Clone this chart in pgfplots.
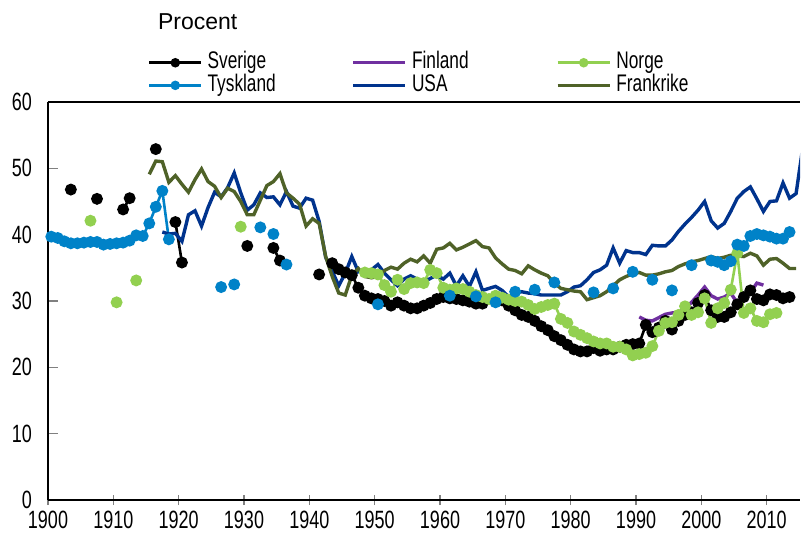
\documentclass[border=0pt]{standalone}
\usepackage{fontspec}
\setmainfont[FakeStretch=0.72]{Liberation Sans}
\newfontfamily\widefont{Liberation Sans}
\usepackage{pgfplots}
\usepackage{pgfplotstable}
\pgfplotsset{compat=1.18}

\definecolor{sve}{RGB}{0,0,0}
\definecolor{fin}{RGB}{112,48,160}
\definecolor{nor}{RGB}{146,208,80}
\definecolor{tys}{RGB}{0,130,200}
\definecolor{usa}{RGB}{0,51,141}
\definecolor{fra}{RGB}{79,98,40}

\pgfplotstableread{
x y
1903 46.8
1904 nan
1907 45.4
1908 nan
1911 43.8
1912 45.5
1913 nan
1916 52.9
1917 nan
1919 41.9
1920 35.8
1921 nan
1930 38.3
1931 nan
1934 38.0
1935 36.1
1936 nan
1941 34.0
1942 nan
1943 35.7
1944 34.8
1945 34.3
1946 33.9
1947 32.0
1948 30.8
1949 30.4
1950 30.3
1951 30.0
1952 29.3
1953 29.8
1954 29.3
1955 28.9
1956 28.9
1957 29.3
1958 29.7
1959 30.3
1960 30.6
1961 30.4
1962 30.3
1963 30.1
1964 29.9
1965 29.6
1966 29.6
1969 30.1
1970 29.3
1971 28.6
1972 27.9
1973 27.6
1974 27.0
1975 26.2
1976 25.6
1977 24.7
1978 24.1
1979 23.4
1980 22.7
1981 22.4
1982 22.4
1983 22.9
1984 22.5
1985 22.7
1986 22.7
1987 23.1
1988 23.4
1989 23.5
1990 23.6
1991 26.4
1992 25.3
1993 26.0
1994 27.0
1995 25.7
1996 27.0
1997 27.9
1998 28.3
1999 29.7
2000 30.9
2001 28.6
2002 27.6
2003 27.6
2004 28.3
2005 29.5
2006 30.6
2007 31.6
2008 30.3
2009 30.1
2010 31.0
2011 30.9
2012 30.4
2013 30.6
}\sverige

\pgfplotstableread{
x y
1990 27.6
1991 27.1
1992 27.0
1993 27.5
1994 28.0
1995 28.2
1996 28.3
1997 28.8
1998 29.8
1999 30.9
2000 32.1
2001 30.8
2002 30.3
2003 30.6
2004 31.2
2005 29.7
2006 30.5
2007 31.3
2008 32.7
2009 32.4
}\finland

\pgfplotstableread{
x y
1906 42.1
1907 nan
1910 29.8
1911 nan
1913 33.1
1914 nan
1929 41.2
1930 nan
1948 34.3
1949 34.2
1950 34.0
1951 32.4
1952 31.4
1953 33.2
1954 31.8
1955 32.7
1956 32.8
1957 32.7
1958 34.7
1959 34.2
1960 32.0
1961 31.7
1962 31.9
1963 31.8
1964 31.4
1965 30.9
1966 30.6
1967 30.3
1968 30.8
1969 30.5
1970 30.2
1971 30.0
1972 29.9
1973 29.4
1974 28.8
1975 29.1
1976 29.4
1977 29.6
1978 27.3
1979 26.7
1980 25.4
1981 24.9
1982 24.4
1983 23.9
1984 23.6
1985 23.6
1986 23.1
1987 23.1
1988 22.7
1989 21.8
1990 22.0
1991 22.2
1992 23.2
1993 25.5
1994 26.7
1995 26.8
1996 27.9
1997 29.2
1998 27.9
1999 28.3
2000 30.4
2001 26.7
2002 28.9
2003 29.7
2004 31.7
2005 37.2
2006 28.2
2007 28.9
2008 27.0
2009 26.8
2010 28.0
2011 28.2
}\norge

\pgfplotstableread{
x y
1900 39.7
1901 39.5
1902 39.0
1903 38.7
1904 38.7
1905 38.8
1906 38.9
1907 38.9
1908 38.5
1909 38.6
1910 38.7
1911 38.8
1912 39.1
1913 39.9
1914 39.8
1915 41.7
1916 44.2
1917 46.6
1918 39.3
1919 nan
1926 32.1
1927 nan
1928 32.5
1929 nan
1932 41.1
1933 nan
1934 40.1
1935 nan
1936 35.5
1937 nan
1950 29.5
1951 nan
1961 30.8
1962 nan
1965 30.7
1966 nan
1968 29.8
1969 nan
1971 31.4
1972 nan
1974 31.7
1975 nan
1977 32.8
1978 nan
1983 31.3
1984 nan
1986 31.9
1987 nan
1989 34.4
1990 nan
1992 33.2
1993 nan
1995 31.6
1996 nan
1998 35.4
1999 nan
2001 36.1
2002 35.9
2003 35.4
2004 36.0
2005 38.5
2006 38.3
2007 39.8
2008 40.1
2009 39.9
2010 39.7
2011 39.4
2012 39.4
2013 40.4
}\tyskland

\pgfplotstableread{
x y
1917 40.4
1918 40.1
1919 40.2
1920 39.0
1921 43.0
1922 43.6
1923 41.3
1924 44.1
1925 46.4
1926 45.7
1927 47.1
1928 49.3
1929 46.3
1930 43.7
1931 44.5
1932 46.3
1933 45.6
1934 45.7
1935 44.5
1936 46.5
1937 44.3
1938 44.0
1939 45.5
1940 45.2
1941 42.0
1942 36.6
1943 34.5
1944 32.3
1945 34.2
1946 36.7
1947 34.4
1948 34.7
1949 34.7
1950 35.5
1951 34.2
1952 33.2
1953 32.3
1954 33.3
1955 33.8
1956 33.3
1957 32.8
1958 33.4
1959 33.9
1960 33.3
1961 34.2
1962 32.3
1963 33.8
1964 32.2
1965 34.4
1966 31.6
1967 31.9
1968 32.2
1969 31.6
1970 30.6
1971 31.2
1972 31.4
1973 31.2
1974 31.1
1975 30.9
1976 30.9
1977 30.9
1978 30.9
1979 31.4
1980 32.1
1981 32.3
1982 33.2
1983 34.3
1984 34.7
1985 35.4
1986 38.0
1987 35.7
1988 37.6
1989 37.3
1990 37.3
1991 37.0
1992 38.4
1993 38.3
1994 38.3
1995 39.2
1996 40.5
1997 41.6
1998 42.6
1999 43.7
2000 45.0
2001 42.1
2002 41.0
2003 41.7
2004 43.5
2005 45.5
2006 46.5
2007 47.2
2008 45.4
2009 43.5
2010 45.0
2011 45.1
2012 47.8
2013 45.5
2014 46.2
2015 53.0
}\usa

\pgfplotstableread{
x y
1915 49.1
1916 51.1
1917 51.0
1918 47.9
1919 48.9
1920 47.6
1921 46.4
1922 48.3
1923 49.9
1924 48.0
1925 47.3
1926 45.6
1927 47.0
1928 46.5
1929 45.0
1930 43.0
1931 43.0
1932 45.2
1933 47.4
1934 48.0
1935 49.2
1936 46.3
1937 45.5
1938 44.6
1939 41.3
1940 42.4
1941 41.7
1942 36.7
1943 33.7
1944 31.2
1945 30.9
1946 33.9
1947 34.9
1948 33.7
1949 33.5
1950 33.7
1951 34.6
1952 35.1
1953 34.8
1954 35.7
1955 36.3
1956 35.9
1957 36.8
1958 35.7
1959 37.8
1960 38.0
1961 38.7
1962 37.7
1963 38.1
1964 38.6
1965 39.1
1966 38.2
1967 38.0
1968 36.5
1969 35.6
1970 34.8
1971 34.6
1972 34.1
1973 35.3
1974 34.7
1975 34.2
1976 33.8
1977 32.7
1978 31.9
1979 31.7
1980 31.5
1981 31.4
1982 30.2
1983 30.5
1984 30.8
1985 31.4
1986 32.3
1987 33.2
1988 33.7
1989 34.1
1990 34.3
1991 33.9
1992 33.9
1993 34.1
1994 34.4
1995 34.6
1996 35.2
1997 35.6
1998 35.9
1999 36.1
2000 36.4
2001 36.7
2002 36.4
2003 36.6
2004 36.9
2005 36.8
2006 36.7
2007 37.2
2008 36.8
2009 35.4
2010 36.3
2011 36.4
2012 35.7
2013 34.9
2014 34.9
}\frankrike

\begin{document}
\begin{tikzpicture}[font=\fontsize{12.5}{14}\selectfont]
\useasboundingbox (-24pt,-18.5pt) rectangle (377pt,250pt);
\begin{axis}[
  name=ax,
  at={(0,0)}, anchor=south west,
  width=376pt, height=199pt, scale only axis,
  xmin=1899.5, xmax=2014.6, ymin=0, ymax=60,
  separate axis lines,
  axis x line*=box, axis y line*=left,
  xtick={1899.5,1909.5,1919.5,1929.5,1939.5,1949.5,1959.5,1969.5,1979.5,1989.5,1999.5,2009.5},
  xticklabels={1900,1910,1920,1930,1940,1950,1960,1970,1980,1990,2000,2010},
  ytick={0,10,20,30,40,50,60},
  xtick pos=left, ytick pos=left,
  xtick align=center, ytick align=inside,
  major tick length=5pt,
  tick style={gray, line width=0.6pt},
  axis line style={line width=0.75pt},
  /pgf/number format/assume math mode=true,
  yticklabel style={xshift=-4.5pt},
  xticklabel style={yshift=0.5pt},
  unbounded coords=jump,
  legend columns=3,
  legend cell align=left,
  legend style={
    at={(rel axis cs:0.133,1.127)}, anchor=north west,
    draw=none, fill=none, inner sep=0pt, outer sep=0pt,
    row sep=0pt, column sep=0pt,
    font=\fontsize{12}{13}\selectfont,
    nodes={inner sep=0pt, text width=72pt, align=left, text height=8.7pt, text depth=2.6pt},
    /tikz/every odd column/.append style={column sep=2.5pt},
  },
  legend image code/.code={\draw[mark repeat=2,mark phase=2,#1] plot coordinates {(0pt,0pt) (13pt,0pt) (26pt,0pt)};},
  legend image post style={mark size=1.7pt},
]
\addplot[sve, line width=1.3pt, mark=*, mark size=2.3pt, mark options={solid, fill=sve, draw=sve}] table[x=x,y=y] {\sverige};
\addlegendentry{Sverige}
\addplot[fin, line width=1.7pt, no marks] table[x=x,y=y] {\finland};
\addlegendentry{Finland}
\addplot[nor, line width=1.3pt, mark=*, mark size=2.3pt, mark options={solid, fill=nor, draw=nor}] table[x=x,y=y] {\norge};
\addlegendentry{Norge}
\addplot[tys, line width=1.3pt, mark=*, mark size=2.3pt, mark options={solid, fill=tys, draw=tys}] table[x=x,y=y] {\tyskland};
\addlegendentry{Tyskland}
\addplot[usa, line width=1.7pt, no marks] table[x=x,y=y] {\usa};
\addlegendentry{USA}
\addplot[fra, line width=1.7pt, no marks] table[x=x,y=y] {\frankrike};
\addlegendentry{Frankrike}
\end{axis}
\node[anchor=west, font=\widefont\fontsize{11.5}{13}\selectfont] at ([shift={(51.5pt,40pt)}]ax.north west) {Procent};
\end{tikzpicture}
\end{document}
